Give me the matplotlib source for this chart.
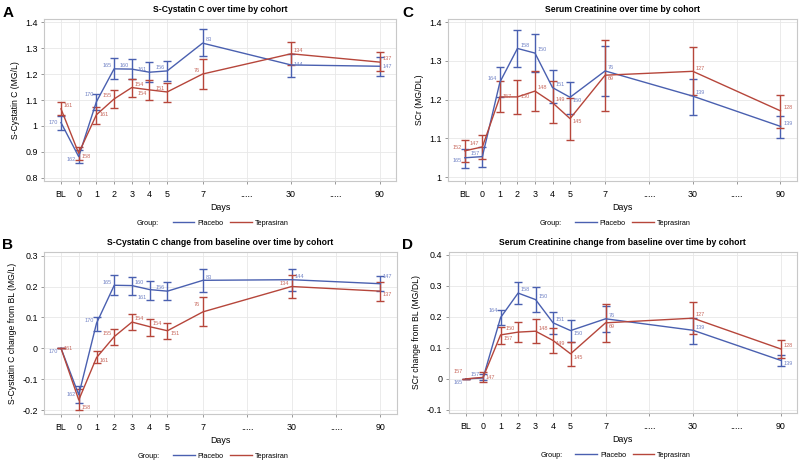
import numpy as np
import matplotlib
matplotlib.use('Agg')
import matplotlib.pyplot as plt
from matplotlib.lines import Line2D

plt.rcParams['font.family'] = ['Liberation Sans', 'DejaVu Sans']

# x categories (broken time axis)
day_labels = ['BL', '0', '1', '2', '3', '4', '5', '7', '.....', '30', '.....', '90']
day_slots = [-1, 0, 1, 2, 3, 4, 5, 7, 9.5, 12, 14.5, 17]
data_days = ['BL', '0', '1', '2', '3', '4', '5', '7', '30', '90']

# A: S-Cystatin C
cys_pla = [1.013, 0.882, 1.093, 1.220, 1.219, 1.207, 1.212, 1.319, 1.235, 1.230]
cys_pla_lo = [0.986, 0.856, 1.062, 1.180, 1.180, 1.170, 1.172, 1.268, 1.190, 1.193]
cys_pla_hi = [1.040, 0.908, 1.124, 1.260, 1.257, 1.246, 1.250, 1.372, 1.277, 1.264]
cys_tep = [1.066, 0.895, 1.043, 1.104, 1.148, 1.139, 1.131, 1.200, 1.278, 1.246]
cys_tep_lo = [1.041, 0.868, 1.008, 1.071, 1.113, 1.100, 1.092, 1.143, 1.233, 1.210]
cys_tep_hi = [1.091, 0.920, 1.072, 1.139, 1.181, 1.178, 1.165, 1.257, 1.322, 1.284]
cys_pla_n = [170, 162, 170, 165, 160, 161, 156, 83, 144, 147]
cys_tep_n = [161, 158, 161, 155, 154, 154, 151, 76, 134, 137]

# B: S-Cystatin C change from BL
dcys_pla = [0.0, -0.150, 0.081, 0.204, 0.203, 0.190, 0.185, 0.220, 0.222, 0.209]
dcys_pla_lo = [0.0, -0.178, 0.056, 0.172, 0.171, 0.157, 0.156, 0.183, 0.186, 0.185]
dcys_pla_hi = [0.0, -0.122, 0.102, 0.237, 0.232, 0.219, 0.215, 0.256, 0.258, 0.234]
dcys_tep = [0.0, -0.167, -0.030, 0.038, 0.085, 0.070, 0.057, 0.118, 0.200, 0.185]
dcys_tep_lo = [0.0, -0.200, -0.048, 0.011, 0.059, 0.041, 0.029, 0.073, 0.163, 0.154]
dcys_tep_hi = [0.0, -0.132, -0.007, 0.061, 0.110, 0.094, 0.082, 0.166, 0.237, 0.215]

# C: Serum creatinine
scr_pla = [1.050, 1.053, 1.245, 1.332, 1.320, 1.231, 1.206, 1.274, 1.209, 1.131]
scr_pla_lo = [1.024, 1.026, 1.207, 1.283, 1.270, 1.192, 1.162, 1.209, 1.160, 1.102]
scr_pla_hi = [1.073, 1.078, 1.283, 1.380, 1.370, 1.276, 1.246, 1.339, 1.254, 1.157]
scr_tep = [1.068, 1.078, 1.207, 1.207, 1.222, 1.192, 1.151, 1.263, 1.273, 1.171]
scr_tep_lo = [1.038, 1.048, 1.167, 1.162, 1.170, 1.140, 1.095, 1.170, 1.211, 1.127]
scr_tep_hi = [1.095, 1.109, 1.249, 1.250, 1.274, 1.248, 1.205, 1.353, 1.335, 1.213]
scr_pla_n = [165, 157, 164, 158, 150, 151, 150, 76, 139, 139]
scr_tep_n = [152, 147, 157, 150, 148, 149, 145, 69, 127, 128]

# D: Serum creatinine change from BL
dscr_pla = [0.0, 0.003, 0.198, 0.277, 0.256, 0.181, 0.156, 0.194, 0.157, 0.060]
dscr_pla_lo = [0.0, -0.005, 0.173, 0.242, 0.216, 0.146, 0.119, 0.151, 0.114, 0.041]
dscr_pla_hi = [0.0, 0.015, 0.223, 0.313, 0.296, 0.215, 0.189, 0.236, 0.197, 0.078]
dscr_tep = [0.0, 0.005, 0.142, 0.151, 0.154, 0.124, 0.081, 0.181, 0.196, 0.097]
dscr_tep_lo = [0.0, -0.011, 0.113, 0.118, 0.116, 0.084, 0.041, 0.118, 0.146, 0.068]
dscr_tep_hi = [0.0, 0.022, 0.167, 0.183, 0.194, 0.165, 0.120, 0.242, 0.247, 0.124]
dscr_pla_n = [165, 157, 164, 158, 150, 151, 150, 76, 139, 139]
dscr_tep_n = [157, 147, 157, 150, 148, 149, 145, 69, 127, 128]

BLUE = '#4a60b0'
RED = '#b6463b'
BLUE_T = '#7384c6'
RED_T = '#c86a5f'

slot = dict(zip(day_labels, day_slots))
xs = np.array([slot[d] for d in data_days])
VSHIFT = {'u': 2.3, 'U': 5.0, 'c': 0.0, 'd': -2.3, 'D': -5.5}


def draw_series(ax, y, lo, hi, n, color, tcolor, sides, vpos):
    y = np.array(y)
    err = [y - np.array(lo), np.array(hi) - y]
    ax.errorbar(xs, y, yerr=err, color=color, lw=1.0, elinewidth=1.0,
                capsize=3.2, capthick=1.0, zorder=3)
    for xi, yi, ni, s, v in zip(xs, y, n, sides, vpos):
        dx = 2 if s == 'r' else -2
        ax.annotate(str(ni), (xi, yi), xytext=(dx, VSHIFT[v]),
                    textcoords='offset points',
                    ha='left' if s == 'r' else 'right', va='center',
                    fontsize=4.0, color=tcolor, zorder=4)


def setup(ax, title, ylabel, ylim, yticks, yfmt):
    ax.set_xlim(-1.96, 17.93)
    ax.set_ylim(*ylim)
    ax.set_xticks(day_slots)
    ax.set_xticklabels(day_labels)
    ax.set_yticks(yticks)
    ax.set_yticklabels([yfmt(v) for v in yticks])
    ax.grid(True, color='#e8e8e8', lw=0.6)
    ax.set_axisbelow(True)
    for sp in ax.spines.values():
        sp.set_color('#c8c8c8')
        sp.set_linewidth(0.8)
    ax.tick_params(axis='both', labelsize=6.4, length=2.5, width=0.6,
                   color='#888888', pad=2)
    ax.tick_params(axis='x', pad=4)
    ax.set_title(title, fontsize=6.2, fontweight='bold', pad=5)
    ax.set_ylabel(ylabel, fontsize=6.2, labelpad=4)
    ax.set_xlabel('Days', fontsize=6.4, labelpad=3)
    handles = [Line2D([], [], color=BLUE, lw=1.0), Line2D([], [], color=RED, lw=1.0)]
    ax.legend(handles, ['Placebo', 'Teprasiran'], loc='center',
              bbox_to_anchor=(0.53, -0.262), ncol=2, frameon=False,
              fontsize=5.2, handlelength=3.0, handletextpad=0.4,
              columnspacing=0.9, borderaxespad=0)
    ax.text(0.327, -0.262, 'Group:', transform=ax.transAxes, fontsize=5.2,
            ha='right', va='center')


def fmt1(v):
    s = '%.1f' % v
    if s in ('1.0', '0.0', '-0.0'):
        return s.split('.')[0].replace('-', '')
    return s


fig = plt.figure(figsize=(8, 4.63), dpi=100)
axA = fig.add_axes([0.055, 0.609, 0.440, 0.350])
axC = fig.add_axes([0.560, 0.609, 0.436, 0.350])
axB = fig.add_axes([0.055, 0.106, 0.441, 0.350])
axD = fig.add_axes([0.561, 0.108, 0.435, 0.348])

setup(axA, 'S-Cystatin C over time by cohort', 'S-Cystatin C (MG/L)',
      (0.788, 1.412), np.arange(0.8, 1.41, 0.1), fmt1)
draw_series(axA, cys_pla, cys_pla_lo, cys_pla_hi, cys_pla_n, BLUE, BLUE_T,
            'lllllllrrr', 'cdUuuuuucc')
draw_series(axA, cys_tep, cys_tep_lo, cys_tep_hi, cys_tep_n, RED, RED_T,
            'rrrlrlllrr', 'udcuuduuuu')

setup(axC, 'Serum Creatinine over time by cohort', 'SCr (MG/DL)',
      (0.99, 1.408), np.arange(1.0, 1.41, 0.1), fmt1)
draw_series(axC, scr_pla, scr_pla_lo, scr_pla_hi, scr_pla_n, BLUE, BLUE_T,
            'lllrrrrrrr', 'duuuuuduuu')
draw_series(axC, scr_tep, scr_tep_lo, scr_tep_hi, scr_tep_n, RED, RED_T,
            'llrrrrrrrr', 'uuccuudduu')

setup(axB, 'S-Cystatin C change from baseline over time by cohort',
      'S-Cystatin C change from BL (MG/L)',
      (-0.212, 0.312), np.arange(-0.2, 0.31, 0.1), fmt1)
draw_series(axB, dcys_pla, dcys_pla_lo, dcys_pla_hi, cys_pla_n, BLUE, BLUE_T,
            'llllrllrrr', 'dcuuuDuuuU')
draw_series(axB, dcys_tep, dcys_tep_lo, dcys_tep_hi, cys_tep_n, RED, RED_T,
            'rrrlrrrllr', 'cDduuudUud')

setup(axD, 'Serum Creatinine change from baseline over time by cohort',
      'SCr change from BL (MG/DL)',
      (-0.11, 0.41), np.arange(-0.1, 0.41, 0.1), fmt1)
draw_series(axD, dscr_pla, dscr_pla_lo, dscr_pla_hi, dscr_pla_n, BLUE, BLUE_T,
            'lllrrrrrrr', 'duUuuuduud')
draw_series(axD, dscr_tep, dscr_tep_lo, dscr_tep_hi, dscr_tep_n, RED, RED_T,
            'lrrlrrrrrr', 'Ucduuddduu')

for lab, x, y in [('A', 0.003, 0.972), ('C', 0.503, 0.972),
                  ('B', 0.003, 0.470), ('D', 0.503, 0.470)]:
    fig.text(x, y, lab, fontsize=11, fontweight='bold', ha='left', va='center')

fig.savefig('out.png', dpi=100)
